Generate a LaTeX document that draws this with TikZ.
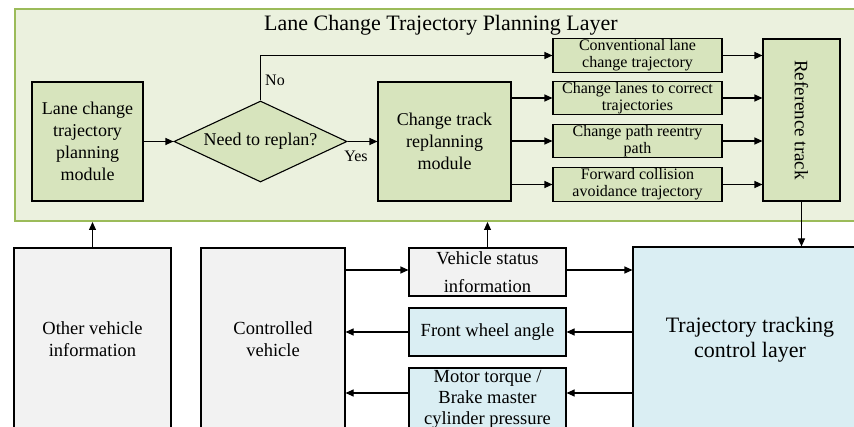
\documentclass[tikz,border=0pt]{standalone}
\usepackage{fontspec}
\setmainfont{Liberation Serif}
\usetikzlibrary{arrows.meta,shapes.geometric,calc}
\definecolor{layerfill}{HTML}{EBF1DE}
\definecolor{layerline}{HTML}{9BBB59}
\definecolor{greenbox}{HTML}{D7E4BD}
\definecolor{greybox}{HTML}{F2F2F2}
\definecolor{bluebox}{HTML}{DAEEF3}
\tikzset{
  box/.style={draw=black, line width=1.1pt, align=center, inner sep=1pt, anchor=center},
  gbox/.style={box, fill=greenbox, font=\fontsize{18}{22}\selectfont},
  sbox/.style={box, fill=greenbox, font=\fontsize{16}{17}\selectfont, minimum width=169pt},
  greyb/.style={box, fill=greybox, font=\fontsize{18.5}{22}\selectfont},
  blueb/.style={box, fill=bluebox, font=\fontsize{18.5}{22}\selectfont},
  arr/.style={draw=black, line width=1.1pt, -{Triangle[length=8pt,width=7pt]}},
  lbl/.style={font=\fontsize{16}{18}\selectfont, inner sep=0pt}
}
\begin{document}
\begin{tikzpicture}[x=1pt,y=-1pt]
\useasboundingbox (0,0) rectangle (854,427);
\clip (0,0) rectangle (854,427);
\fill[white] (0,0) rectangle (854,427);
% planning layer
\node[draw=layerline, fill=layerfill, line width=2pt, minimum width=856pt, minimum height=212pt, inner sep=0pt, anchor=north west] (layer) at (14,8) {};
\node[font=\fontsize{22}{26}\selectfont, inner sep=0pt] (title) at (441,25) {Lane Change Trajectory Planning Layer};
% modules
\node[gbox, minimum width=111pt, minimum height=119pt] (lcp) at (87.5,141.5) {Lane change\\trajectory\\planning\\module};
\node[draw=black, line width=1.1pt, fill=greenbox, diamond, aspect=2.14, minimum width=173pt, minimum height=81pt, inner sep=0pt, font=\fontsize{18}{22}\selectfont] (dec) at (260.5,141.5) {Need to replan?};
\node[gbox, minimum width=133pt, minimum height=119pt] (ctr) at (444.5,141.5) {Change track\\replanning\\module};
\node[sbox, minimum height=33pt] (b1) at (637.5,55.5) {Conventional lane\\change trajectory};
\node[sbox, minimum height=32pt] (b2) at (637.5,98) {Change lanes to correct\\trajectories};
\node[sbox, minimum height=32pt] (b3) at (637.5,141) {Change path reentry\\path};
\node[sbox, minimum height=33pt] (b4) at (637.5,184.5) {Forward collision\\avoidance trajectory};
\node[box, fill=greenbox, minimum width=77pt, minimum height=162pt] (ref) at (801.5,120) {};
\node[font=\fontsize{19}{22}\selectfont, rotate=-90, inner sep=0pt] (reftext) at (ref.center) {Reference track};
% lower layer
\node[greyb, minimum width=157pt, minimum height=182pt] (other) at (92.5,339) {Other vehicle\\information};
\node[greyb, minimum width=144pt, minimum height=182pt] (veh) at (273,339) {Controlled\\vehicle};
\node[greyb, minimum width=157pt, minimum height=48pt, font=\fontsize{18.5}{28}\selectfont] (vsi) at (487.5,272) {Vehicle status\\information};
\node[blueb, minimum width=157pt, minimum height=48pt] (fwa) at (487.5,332) {Front wheel angle};
\node[blueb, minimum width=157pt, minimum height=62pt, font=\fontsize{18.5}{21}\selectfont] (mt) at (487.5,399) {Motor torque /\\Brake master\\cylinder pressure};
\node[box, fill=bluebox, minimum width=234pt, minimum height=186pt, font=\fontsize{22}{25}\selectfont] (tt) at (750,340) {Trajectory tracking\\control layer};
% connectors in planning layer
\draw[arr] (lcp.east) -- (dec.west);
\draw[arr] (dec.east) -- (ctr.west);
\node[lbl, anchor=north] (yes) at (356,151) {Yes};
\coordinate (noturn) at (dec.north |- b1.west);
\draw[arr] (dec.north) -- (noturn) -- (b1.west);
\node[lbl, anchor=west] (no) at (265,80) {No};
\draw[arr] (ctr.east |- b2.west) -- (b2.west);
\draw[arr] (ctr.east |- b3.west) -- (b3.west);
\draw[arr] (ctr.east |- b4.west) -- (b4.west);
\draw[arr] (b1.east) -- (ref.west |- b1.east);
\draw[arr] (b2.east) -- (ref.west |- b2.east);
\draw[arr] (b3.east) -- (ref.west |- b3.east);
\draw[arr] (b4.east) -- (ref.west |- b4.east);
\draw[arr] (ref.south) -- (ref.south |- tt.north);
% connectors lower layer
\draw[arr] (other.north) -- (other.north |- layer.south);
\draw[arr] (vsi.north) -- (vsi.north |- layer.south);
\coordinate (vrow) at (0,270);
\draw[arr] (veh.east |- vrow) -- (vsi.west |- vrow);
\draw[arr] (vsi.east |- vrow) -- (tt.west |- vrow);
\draw[arr] (tt.west |- fwa.east) -- (fwa.east);
\draw[arr] (fwa.west) -- (veh.east |- fwa.west);
\coordinate (mrow) at (0,393);
\draw[arr] (tt.west |- mrow) -- (mt.east |- mrow);
\draw[arr] (mt.west |- mrow) -- (veh.east |- mrow);
\end{tikzpicture}
\end{document}
